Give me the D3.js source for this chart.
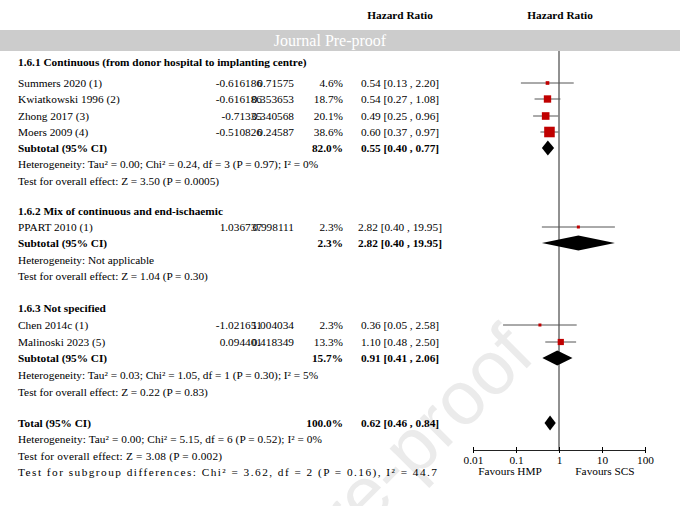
<!DOCTYPE html><html><head><script src="https://cdn.jsdelivr.net/npm/d3@7"></script>
<style>body{margin:0;background:#fff}text{font-family:"Liberation Serif","DejaVu Serif",serif;font-size:11.3px}</style></head><body><svg id="c" width="680" height="506"></svg>
<script>
const studies=["Summers 2020 (1)","Kwiatkowski 1996 (2)","Zhong 2017 (3)","Moers 2009 (4)","PPART 2010 (1)","Chen 2014c (1)","Malinoski 2023 (5)"];
const group=[0,0,0,0,1,2,2];
const logHR=["-0.616186","-0.616186","-0.71335","-0.510826","1.036737","-1.021651","0.094401"];
const se=["0.71575","0.353653","0.340568","0.24587","0.998111","1.004034","0.418349"];
const weight=[4.6,18.7,20.1,38.6,2.3,2.3,13.3];
const hr=[0.54,0.54,0.49,0.60,2.82,0.36,1.10];
const lo=[0.13,0.27,0.25,0.37,0.40,0.05,0.48];
const hi=[2.20,1.08,0.96,0.97,19.95,2.58,2.50];
const groupNames=["1.6.1 Continuous (from donor hospital to implanting centre)","1.6.2 Mix of continuous and end-ischaemic","1.6.3 Not specified"];
const subW=["82.0%","2.3%","15.7%"];
const subHR=[0.55,2.82,0.91],subLo=[0.40,0.40,0.41],subHi=[0.77,19.95,2.06];
const subCI=["0.55 [0.40 , 0.77]","2.82 [0.40 , 19.95]","0.91 [0.41 , 2.06]"];
const het=["Heterogeneity: Tau² = 0.00; Chi² = 0.24, df = 3 (P = 0.97); I² = 0%","Heterogeneity: Not applicable","Heterogeneity: Tau² = 0.03; Chi² = 1.05, df = 1 (P = 0.30); I² = 5%"];
const eff=["Test for overall effect: Z = 3.50 (P = 0.0005)","Test for overall effect: Z = 1.04 (P = 0.30)","Test for overall effect: Z = 0.22 (P = 0.83)"];
const total={hr:0.62,lo:0.46,hi:0.84,ci:"0.62 [0.46 , 0.84]"};
const totalLines=["Heterogeneity: Tau² = 0.00; Chi² = 5.15, df = 6 (P = 0.52); I² = 0%","Test for overall effect: Z = 3.08 (P = 0.002)","Test for subgroup differences: Chi² = 3.62, df = 2 (P = 0.16), I² = 44.7"];
const ticks=[0.01,0.1,1,10,100];
const tickLabels=["0.01","0.1","1","10","100"];

const svg=d3.select("#c");
const x=d3.scaleLog().domain([0.01,100]).range([473,645]);
const f=d3.format(".2f");
function t(xp,y,s,anchor,bold){const e=svg.append("text").attr("x",xp).attr("y",y).attr("text-anchor",anchor||"start").text(s);if(bold)e.attr("font-weight","bold");return e;}
svg.append("text").attr("transform","translate(425,470) rotate(-45)").attr("text-anchor","middle").attr("fill","#ebebeb").style("font-family","Liberation Sans,sans-serif").style("font-size","76px").text("Pre-proof");
t(400,19,"Hazard Ratio","middle",true);t(560,19,"Hazard Ratio","middle",true);
t(18,38,"Study or Subgroup","start",true);t(192,38,"log[Hazard Ratio]","middle",true);t(262,38,"SE","middle",true);t(312,38,"Weight","middle",true);t(398,38,"IV, Random, 95% CI","middle",true);t(560,38,"IV, Random, 95% CI","middle",true);
svg.append("line").attr("x1",x(1)).attr("x2",x(1)).attr("y1",50).attr("y2",450).attr("stroke","#222");
const studyY=[83,99,116,132,227,325,342];
const groupY=[{h:62,s:148,he:164,ef:181},{h:211,s:243,he:260,ef:276},{h:308,s:358,he:375,ef:392}];
studies.forEach((s,i)=>{const y=studyY[i];
 t(18,y+4,s);t(262,y+4,logHR[i],"end");t(294,y+4,se[i],"end");t(343,y+4,weight[i].toFixed(1)+"%","end");
 t(400,y+4,f(hr[i])+" ["+f(lo[i])+" , "+f(hi[i])+"]","middle");
 svg.append("line").attr("x1",x(lo[i])).attr("x2",x(hi[i])).attr("y1",y).attr("y2",y).attr("stroke","#555");
 const sz=Math.max(3,Math.sqrt(weight[i])*1.7);
 svg.append("rect").attr("x",x(hr[i])-sz/2).attr("y",y-sz/2).attr("width",sz).attr("height",sz).attr("fill","#c00000");
});
function diamond(h,l,u,y,hh){svg.append("path").attr("d",`M${x(l)},${y}L${x(h)},${y-hh}L${x(u)},${y}L${x(h)},${y+hh}Z`).attr("fill","#000");}
groupY.forEach((g,i)=>{
 t(18,g.h+4,groupNames[i],"start",true);
 t(18,g.s+4,"Subtotal (95% CI)","start",true);t(343,g.s+4,subW[i],"end",true);t(400,g.s+4,subCI[i],"middle",true);
 diamond(subHR[i],subLo[i],subHi[i],g.s,7.5);
 t(18,g.he+4,het[i]);t(18,g.ef+4,eff[i]);
});
t(18,427,"Total (95% CI)","start",true);t(343,427,"100.0%","end",true);t(400,427,total.ci,"middle",true);
diamond(total.hr,total.lo,total.hi,423,7.5);
totalLines.forEach((s,i)=>t(18,443+i*16.5,s).attr("textLength",[304,204,419][i]).attr("lengthAdjust","spacing"));
const ax=svg.append("g").attr("transform","translate(0,450)").call(d3.axisBottom(x).tickValues(ticks).tickFormat((d,i)=>tickLabels[i]).tickSize(5).tickSizeOuter(0));
ax.select(".domain").attr("stroke","#222");ax.selectAll(".tick line").attr("y1",-3).attr("y2",3);
ax.selectAll("text").attr("dy","0.5em").style("font-family","Liberation Serif,serif").style("font-size","11.3px");
t(510,475,"Favours HMP","middle");t(605,475,"Favours SCS","middle");
svg.append("rect").attr("x",0).attr("y",30).attr("width",680).attr("height",21).attr("fill","#cccccc");
svg.append("text").attr("x",330).attr("y",46).attr("text-anchor","middle").attr("fill","#fff").style("font-size","16px").text("Journal Pre-proof");
</script></body></html>
